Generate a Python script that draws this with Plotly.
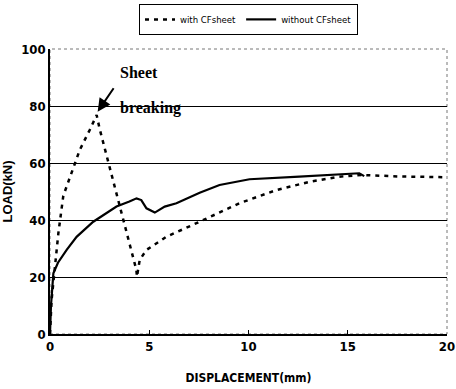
import plotly.graph_objects as go

# with CF sheet (dashed)
with_x = [0, 0.08, 0.25, 0.42, 0.67, 0.9, 1.17, 1.5, 2.0, 2.35, 2.5, 3.1, 3.35, 3.7, 4.1, 4.35, 4.38, 4.52, 4.86, 5.86, 7.54, 9.55, 11.4, 13.07, 14.57, 15.74, 17.5, 19.93]
with_y = [0, 12, 23.6, 35.3, 48.5, 53, 57.5, 64.6, 71.6, 76.8, 72, 56, 49.4, 40, 29.5, 22.5, 20.1, 26, 29.5, 34.1, 39.4, 45.9, 50.5, 53.4, 55.2, 55.8, 55.3, 55]

# without CF sheet (solid)
without_x = [0, 0.05, 0.17, 0.4, 0.84, 1.34, 2.18, 3.35, 4.0, 4.36, 4.6, 4.86, 5.28, 5.78, 6.37, 7.54, 8.54, 10.05, 12.56, 14.24, 15.58, 15.83]
without_y = [0, 10, 21.3, 25, 29.5, 34.1, 39.4, 44.7, 46.5, 47.6, 47, 44.1, 42.6, 44.7, 45.9, 49.6, 52.3, 54.3, 55.2, 55.8, 56.4, 55.4]

x_ticks = [0, 5, 10, 15, 20]
y_ticks = [0, 20, 40, 60, 80, 100]

fig = go.Figure()
fig.add_trace(go.Scatter(x=with_x, y=with_y, mode="lines", name="with CFsheet",
                         line=dict(color="black", width=2.5, dash="4px,5px")))
fig.add_trace(go.Scatter(x=without_x, y=without_y, mode="lines", name="without CFsheet",
                         line=dict(color="black", width=2.2)))

fig.add_annotation(x=2.4, y=78, ax=17, ay=-25, axref="pixel", ayref="pixel",
                   xref="x", yref="y", showarrow=True, arrowhead=2, arrowsize=1.3,
                   arrowwidth=2, arrowcolor="black", text="")
fig.add_annotation(x=0.171, y=0.919, xref="paper", yref="paper", text="<b>Sheet</b>",
                   showarrow=False, xanchor="left", yanchor="middle",
                   font=dict(family="Liberation Serif", size=16, color="black"))
fig.add_annotation(x=0.171, y=0.793, xref="paper", yref="paper", text="<b>breaking</b>",
                   showarrow=False, xanchor="left", yanchor="middle",
                   font=dict(family="Liberation Serif", size=16, color="black"))

fig.add_shape(type="rect", xref="paper", yref="paper", x0=0, y0=0, x1=1, y1=1,
              line=dict(color="#777", width=1, dash="dot"), layer="below")

narrow = "Liberation Sans Narrow, DejaVu Sans Condensed, Liberation Sans"

fig.update_layout(
    width=456, height=389,
    margin=dict(l=50, r=9, t=49, b=55, autoexpand=False),
    paper_bgcolor="white", plot_bgcolor="white",
    font=dict(family="Liberation Sans", color="black", size=13),
    showlegend=True,
    legend=dict(orientation="h", x=0.5, xanchor="center", y=0.99, yanchor="top",
                yref="container", bordercolor="black", borderwidth=1,
                font=dict(size=9.5, family=narrow),
                itemwidth=30, tracegroupgap=0),
    xaxis=dict(range=[0, 20], tickvals=x_ticks, ticktext=[f"<b>{v}</b>" for v in x_ticks],
               showgrid=False, zeroline=False, showline=True, linecolor="black", linewidth=1.5,
               ticks="inside", ticklen=4, tickcolor="black", automargin=False,
               tickfont=dict(size=13, family=narrow),
               title=dict(text="<b>DISPLACEMENT(mm)</b>", font=dict(size=12, family=narrow), standoff=20)),
    yaxis=dict(range=[0, 100], tickvals=y_ticks, ticktext=[f"<b>{v}</b>" for v in y_ticks],
               showgrid=True, gridcolor="black", gridwidth=1, zeroline=False,
               showline=True, linecolor="black", linewidth=1.5, ticks="", automargin=False,
               tickfont=dict(size=13, family=narrow),
               title=dict(text="<b>LOAD(kN)</b>", font=dict(size=13), standoff=8)),
)

fig.write_html("out.html", config={"displayModeBar": False},
               post_script="document.body.style.margin='0';document.body.style.overflow='hidden';")
